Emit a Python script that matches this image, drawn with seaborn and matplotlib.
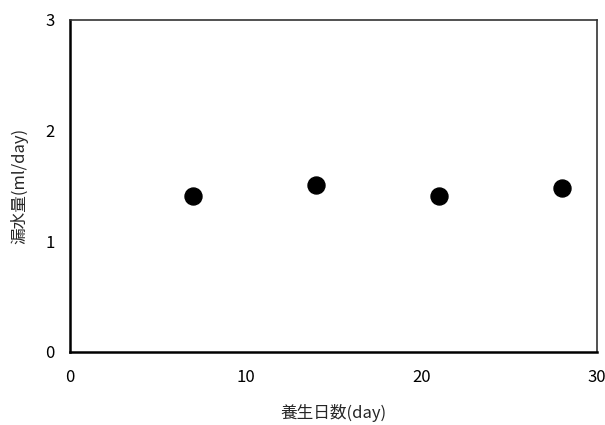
import matplotlib
matplotlib.use('Agg')
import matplotlib.pyplot as plt
import seaborn as sns
import pandas as pd

sns.set_style('white')
plt.rcParams['font.family'] = ['Noto Sans CJK JP', 'DejaVu Sans']

# culture days vs. leakage
days = [7, 14, 21, 28]
leak = [1.41, 1.51, 1.41, 1.48]

df = pd.DataFrame({'day': days, 'leak': leak})

fig = plt.figure(figsize=(6.05, 4.25), dpi=100)
ax = fig.add_axes([70/605, 1 - 352/425, 527/605, 332/425])

sns.scatterplot(data=df, x='day', y='leak', ax=ax, s=150, color='black',
                edgecolor='black', zorder=3)

ax.set_xlim(0, 30)
ax.set_ylim(0, 3)
ax.set_xticks([0, 10, 20, 30])
ax.set_yticks([0, 1, 2, 3])
ax.tick_params(direction='in', length=5, width=1, labelsize=12,
               colors='black', pad=11)
ax.tick_params(axis='x', pad=12)
ax.set_xlabel('養生日数(day)', fontsize=12, labelpad=13)
ax.set_ylabel('漏水量(ml/day)', fontsize=12, labelpad=12)

for side in ['left', 'bottom']:
    ax.spines[side].set_linewidth(1.8)
    ax.spines[side].set_color('black')
for side in ['top', 'right']:
    ax.spines[side].set_linewidth(1.2)
    ax.spines[side].set_color('#333333')

fig.savefig('out.png', dpi=100)
